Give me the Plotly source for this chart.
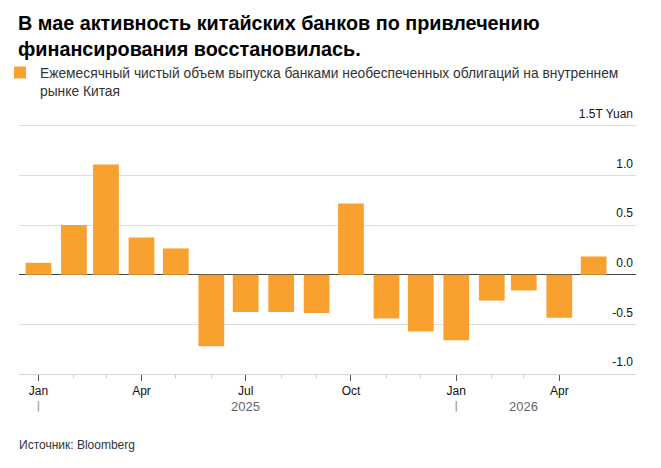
import plotly.graph_objects as go

months = ["2025-01-01", "2025-02-01", "2025-03-01", "2025-04-01", "2025-05-01", "2025-06-01",
          "2025-07-01", "2025-08-01", "2025-09-01", "2025-10-01", "2025-11-01", "2025-12-01",
          "2026-01-01", "2026-02-01", "2026-03-01", "2026-04-01", "2026-05-01"]
values = [0.12, 0.50, 1.11, 0.375, 0.265, -0.72, -0.376, -0.376, -0.386, 0.717,
          -0.44, -0.573, -0.66, -0.26, -0.158, -0.433, 0.184]

major_ticks = ["2025-01-01", "2025-04-01", "2025-07-01", "2025-10-01", "2026-01-01", "2026-04-01"]
major_labels = ["Jan", "Apr", "Jul", "Oct", "Jan", "Apr"]
y_ticks = [-1.0, -0.5, 0.0, 0.5, 1.0, 1.5]
y_labels = ["-1.0", "-0.5", "0.0", "0.5", "1.0", "1.5T Yuan"]
years = ["2025", "2026"]
year_centers = ["2025-07-01", "2026-03-01"]
year_starts = ["2025-01-01", "2026-01-01"]

title = "В мае активность китайских банков по привлечению<br>финансирования восстановилась."
series_name = "Ежемесячный чистый объем выпуска банками необеспеченных облигаций на внутреннем<br>рынке Китая"
source = "Источник: Bloomberg"

ORANGE = "#F9A12E"
FONT = "Liberation Sans, Arial, sans-serif"
DAY_MS = 86400000

fig = go.Figure()
fig.add_trace(go.Bar(
    x=months, y=values, name=series_name,
    marker=dict(color=ORANGE, line=dict(width=0)),
    width=22.5 * DAY_MS, showlegend=True,
))

fig.update_layout(
    width=661, height=468,
    margin=dict(l=19, r=25, t=106, b=94, autoexpand=False),
    paper_bgcolor="white", plot_bgcolor="white",
    font=dict(family=FONT, color="#222"),
    title=dict(text=title, x=18 / 661, xref="container", xanchor="left",
               y=1 - 30 / 468, yref="container", yanchor="top",
               font=dict(family=FONT, size=19.8, color="#000", weight="bold")),
    showlegend=True,
    legend=dict(xref="container", yref="container", x=0.0, y=1 - 57 / 468,
                xanchor="left", yanchor="top",
                orientation="h", valign="top", itemwidth=30,
                font=dict(family=FONT, size=13.8, color="#333"), bgcolor="rgba(0,0,0,0)"),
)

fig.update_xaxes(
    type="date", range=["2024-12-15", "2026-06-07"],
    tickvals=major_ticks, ticktext=major_labels,
    ticks="outside", ticklen=6, tickcolor="#555", tickwidth=1,
    showline=True, linecolor="#d6d6d6", linewidth=1,
    showgrid=False, zeroline=False, automargin=False,
    tickfont=dict(family=FONT, size=12, color="#111"),
    minor=dict(tickvals=months, ticks="outside", ticklen=3, tickcolor="#cccccc", showgrid=False),
)

fig.update_yaxes(
    range=[-1.0, 1.7], side="right", ticklabelposition="inside",
    tickvals=y_ticks, ticktext=y_labels, ticks="",
    showgrid=True, gridcolor="#dedede", gridwidth=1,
    zeroline=True, zerolinecolor="#444", zerolinewidth=1,
    ticklabelshift=-12, automargin=False,
    tickfont=dict(family=FONT, size=12, color="#111"),
)

for yr, xc in zip(years, year_centers):
    fig.add_annotation(x=xc, xref="x", y=0, yref="paper", yshift=-32, yanchor="middle", text=yr,
                       showarrow=False, font=dict(family=FONT, size=13, color="#666"))
for xs in year_starts:
    fig.add_annotation(x=xs, xref="x", y=0, yref="paper", yshift=-27, ax=0, ay=12,
                       axref="pixel", ayref="pixel", text="", showarrow=True,
                       arrowhead=0, arrowwidth=1.5, arrowcolor="#aaa", standoff=0, startstandoff=0)

fig.add_annotation(text=source, x=0, xref="paper", xshift=-2, y=0, yref="paper", yshift=-71,
                   xanchor="left", yanchor="middle", showarrow=False,
                   font=dict(family=FONT, size=12, color="#333"))

fig.write_html("out.html")
